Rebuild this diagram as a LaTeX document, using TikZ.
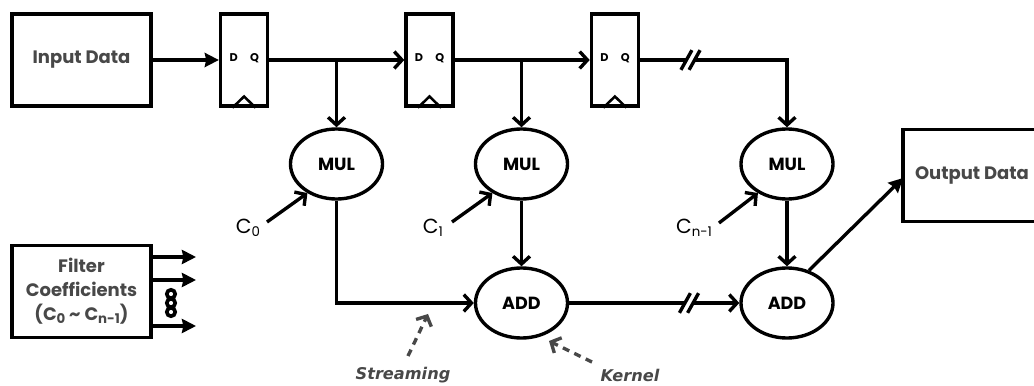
\documentclass[tikz,border=0pt]{standalone}
\usepackage{fontspec}
\setmainfont{Poppins}
\newfontfamily\notefont{DejaVu Sans}
\usepackage{xcolor}
\usetikzlibrary{shapes.geometric, arrows.meta, positioning}
\definecolor{boxtext}{RGB}{72, 72, 72}
\newcommand{\subidx}[1]{\raisebox{-0.25ex}{\fontsize{9.5}{10}\selectfont #1}}

\begin{document}
\begin{tikzpicture}[
    x=0.025cm, y=-0.025cm,
    databox/.style={rectangle, draw=black, line width=2.6pt, minimum width=3.475cm, minimum height=2.3cm, align=center, font=\fontsize{12.8}{17}\selectfont\bfseries, text=boxtext, inner sep=0pt},
    regbox/.style={rectangle, draw=black, line width=2.4pt, minimum width=1.175cm, minimum height=2.3cm, inner sep=0pt},
    opnode/.style={ellipse, draw=black, line width=2.4pt, minimum width=2.3cm, minimum height=1.75cm, inner sep=0pt, font=\fontsize{12.5}{14}\selectfont\bfseries},
    pinlabel/.style={font=\fontsize{8}{9}\selectfont\bfseries, inner sep=0pt},
    coeflabel/.style={font=\fontsize{14.5}{16}\selectfont, inner sep=0pt},
    notelabel/.style={font=\fontsize{11.5}{13}\selectfont\notefont\bfseries\itshape, text=boxtext, inner sep=0pt},
    arrow/.style={-{Stealth[length=10pt, width=10pt, inset=1pt]}, line width=2.4pt},
    openarrow/.style={-{Straight Barb[length=5.5pt, width=12pt]}, line width=2.4pt},
    notearrow/.style={-{Straight Barb[length=5.5pt, width=12pt]}, line width=2.4pt, dash pattern=on 5pt off 4pt, boxtext},
    slash/.style={line width=2.4pt}
]
\clip (0,0) rectangle (1034,386);
\useasboundingbox (0,0) rectangle (1034,386);

% Data boxes
\node[databox] (input) at (81.5,60) {Input Data};
\node[databox] (coef) at (81.5,291.5) {Filter\\Coefficients\\(C\subidx{0} \textasciitilde{} C\subidx{n-1})};
\node[databox, line width=2.2pt, minimum width=3.6cm] (output) at (975,175.5) {};
\node[font=\fontsize{12.8}{17}\selectfont\bfseries, text=boxtext, inner sep=0pt] (outtext) at (972,175) {Output Data};

% Registers
\node[regbox, right=1.65cm of input] (reg1) {};
\node[regbox, right=3.375cm of reg1] (reg2) {};
\node[regbox, right=3.375cm of reg2] (reg3) {};
\foreach \r in {reg1,reg2,reg3} {
    \node[pinlabel] (\r d) at ([xshift=-0.26cm,yshift=0.05cm]\r.center) {D};
    \node[pinlabel] (\r q) at ([xshift=0.26cm,yshift=0.05cm]\r.center) {Q};
    \draw[line width=1.8pt] ([xshift=-0.29cm]\r.south) -- ([yshift=0.28cm]\r.south) -- ([xshift=0.29cm]\r.south);
}

% Operators
\node[opnode] (mul1) at (336.5,164) {MUL};
\node[opnode] (mul2) at (521.5,164) {MUL};
\node[opnode] (mul3) at (787,164) {MUL};
\node[opnode] (add1) at (521.5,303) {ADD};
\node[opnode] (add2) at (787,303) {ADD};

% Coefficient labels
\node[coeflabel] (c0) at (248,228) {C\subidx{0}};
\node[coeflabel] (c1) at (433,228) {C\subidx{1}};
\node[coeflabel] (cn) at (694,228) {C\subidx{n-1}};
\coordinate (c0e) at (267,222);
\coordinate (c1e) at (452,222);
\coordinate (cne) at (719,223);
\coordinate (outtip) at (903,178);

% Arrows
\draw[arrow] (input) -- (reg1);
\draw[openarrow] (reg1) -- (reg2);
\draw[openarrow] (reg2) -- (reg3);
\draw[openarrow] (mul1.north |- reg1) -- (mul1.north);
\draw[openarrow] (mul2.north |- reg2) -- (mul2.north);
\draw[openarrow] (reg3.east) -| (mul3.north);
\draw[openarrow] (mul2) -- (add1);
\draw[openarrow] (mul3) -- (add2);
\draw[openarrow] (mul1.south) |- (add1.west);
\draw[openarrow] (add1) -- (add2);
\draw[openarrow] (c0e) -- (mul1.225);
\draw[openarrow] (c1e) -- (mul2.225);
\draw[openarrow] (cne) -- (mul3.225);
\draw[arrow] (add2.56) -- (outtip);

% Bus marks
\coordinate (mark1) at (690.5,60);
\coordinate (mark2) at (689,303);
\foreach \m in {mark1,mark2} {
    \fill[white] ([xshift=-3pt,yshift=-4pt]\m) rectangle ([xshift=3pt,yshift=4pt]\m);
    \draw[slash] ([xshift=-6.8pt,yshift=-7pt]\m) -- ([xshift=1pt,yshift=7pt]\m);
    \draw[slash] ([xshift=-1pt,yshift=-7pt]\m) -- ([xshift=6.8pt,yshift=7pt]\m);
}

% Coefficient outputs
\coordinate (out1) at (196,257);
\coordinate (out2) at (196,280);
\coordinate (out3) at (196,326);
\foreach \o in {out1,out2,out3}
    \draw[arrow] (coef.east |- \o) -- (\o);
\foreach \y in {294,303,312}
    \node[circle, draw=black, line width=2.6pt, fill=white, minimum size=6pt, inner sep=0pt] (dot\y) at (171,\y) {};

% Notes
\node[notelabel] (stream) at (403,375) {Streaming};
\node[notelabel] (kernel) at (630,375) {Kernel};
\coordinate (streamfrom) at (408,356);
\coordinate (kernelfrom) at (592,362);
\coordinate (streamtip) at (428,314);
\coordinate (kerneltip) at (549,341);
\draw[notearrow] (streamfrom) -- (streamtip);
\draw[notearrow] (kernelfrom) -- (kerneltip);
\end{tikzpicture}
\end{document}
